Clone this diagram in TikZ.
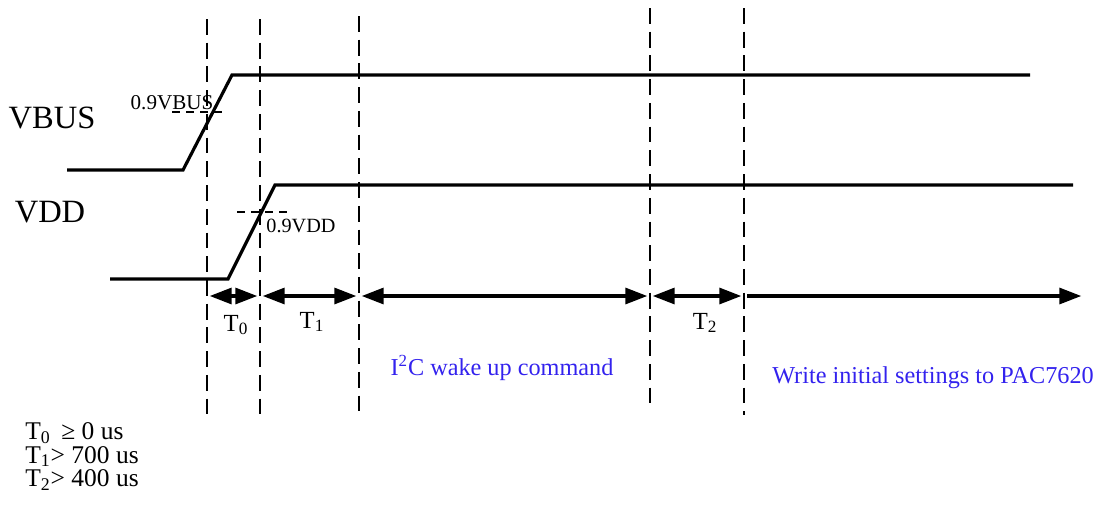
\documentclass[tikz,border=0pt]{standalone}
\usepackage{fontspec}
\setmainfont{Liberation Serif}
\usepackage{color}
\usetikzlibrary{arrows.meta,positioning}
\definecolor{cmdblue}{RGB}{51,34,238}

\tikzset{
  wave/.style={line width=1.8pt},
  guide/.style={line width=1.1pt,dash pattern=on 9pt off 4.5pt},
  level/.style={line width=0.8pt,dash pattern=on 4.5pt off 3.5pt},
  span/.style={line width=2pt,{Triangle[length=12.5pt,width=9pt]}-{Triangle[length=12.5pt,width=9pt]},shorten <=1.5pt,shorten >=1.5pt},
  cmdtext/.style={text=cmdblue,font=\fontsize{13.8}{16}\selectfont},
  tlabel/.style={font=\fontsize{14}{16}\selectfont},
}

\begin{document}
\begin{tikzpicture}[x=0.2mm,y=-0.2mm]
\useasboundingbox (0,0) rectangle (1097,507);

% signal names
\node[font=\fontsize{18.5}{22}\selectfont] (vbus) at (52,118) {VBUS};
\node[font=\fontsize{18.5}{22}\selectfont] (vdd) at (50,212) {VDD};

% waveforms
\draw[wave] (67,170)--(183,170)--(232,75)--(1030,75);
\draw[wave] (110,279)--(228,279)--(275,185)--(1073,185);

% 90% levels
\draw[level] (172,112)--(228,112);
\node[font=\fontsize{12}{13}\selectfont] (vbuslvl) at (172,103) {0.9VBUS};
\draw[level] (237,212)--(292,212);
\node[font=\fontsize{11.5}{13}\selectfont] (vddlvl) at (301,226) {0.9VDD};

% time marks
\draw[guide] (207,19)--(207,417) coordinate (m0);
\draw[guide] (260,19)--(260,417) coordinate (m1);
\draw[guide] (359,16)--(359,415) coordinate (m2);
\draw[guide] (650,8)--(650,408) coordinate (m3);
\draw[guide] (744,8)--(744,415) coordinate (m4);

\coordinate (a0) at (207,296);
\coordinate (a1) at (260,296);
\coordinate (a2) at (359,296);
\coordinate (a3) at (650,296);
\coordinate (a4) at (744,296);
\coordinate (a5) at (1084,296);

\draw[span] (a0)--(a1);
\draw[span] (a1)--(a2);
\draw[span] (a2)--(a3);
\draw[span] (a3)--(a4);
\draw[span,{Triangle[length=12.5pt,width=9pt]}-] (a5)--(a4);

\node[tlabel] (t0) at (236,325) {T\textsubscript{0}};
\node[tlabel] (t1) at (312,322) {T\textsubscript{1}};
\node[tlabel] (t2) at (705,323) {T\textsubscript{2}};

\node[cmdtext] (wake) at (502,368) {I\textsuperscript{2}C wake up command};
\node[cmdtext] (init) at (933,378) {Write initial settings to PAC7620};

% timing limits
\node[anchor=north west,inner sep=0pt,align=left,font=\fontsize{14.5}{13.5}\selectfont] (limits) at (25,422)
  {T\textsubscript{0} \,≥ 0 us\\T\textsubscript{1}> 700 us\\T\textsubscript{2}> 400 us};

\end{tikzpicture}
\end{document}
